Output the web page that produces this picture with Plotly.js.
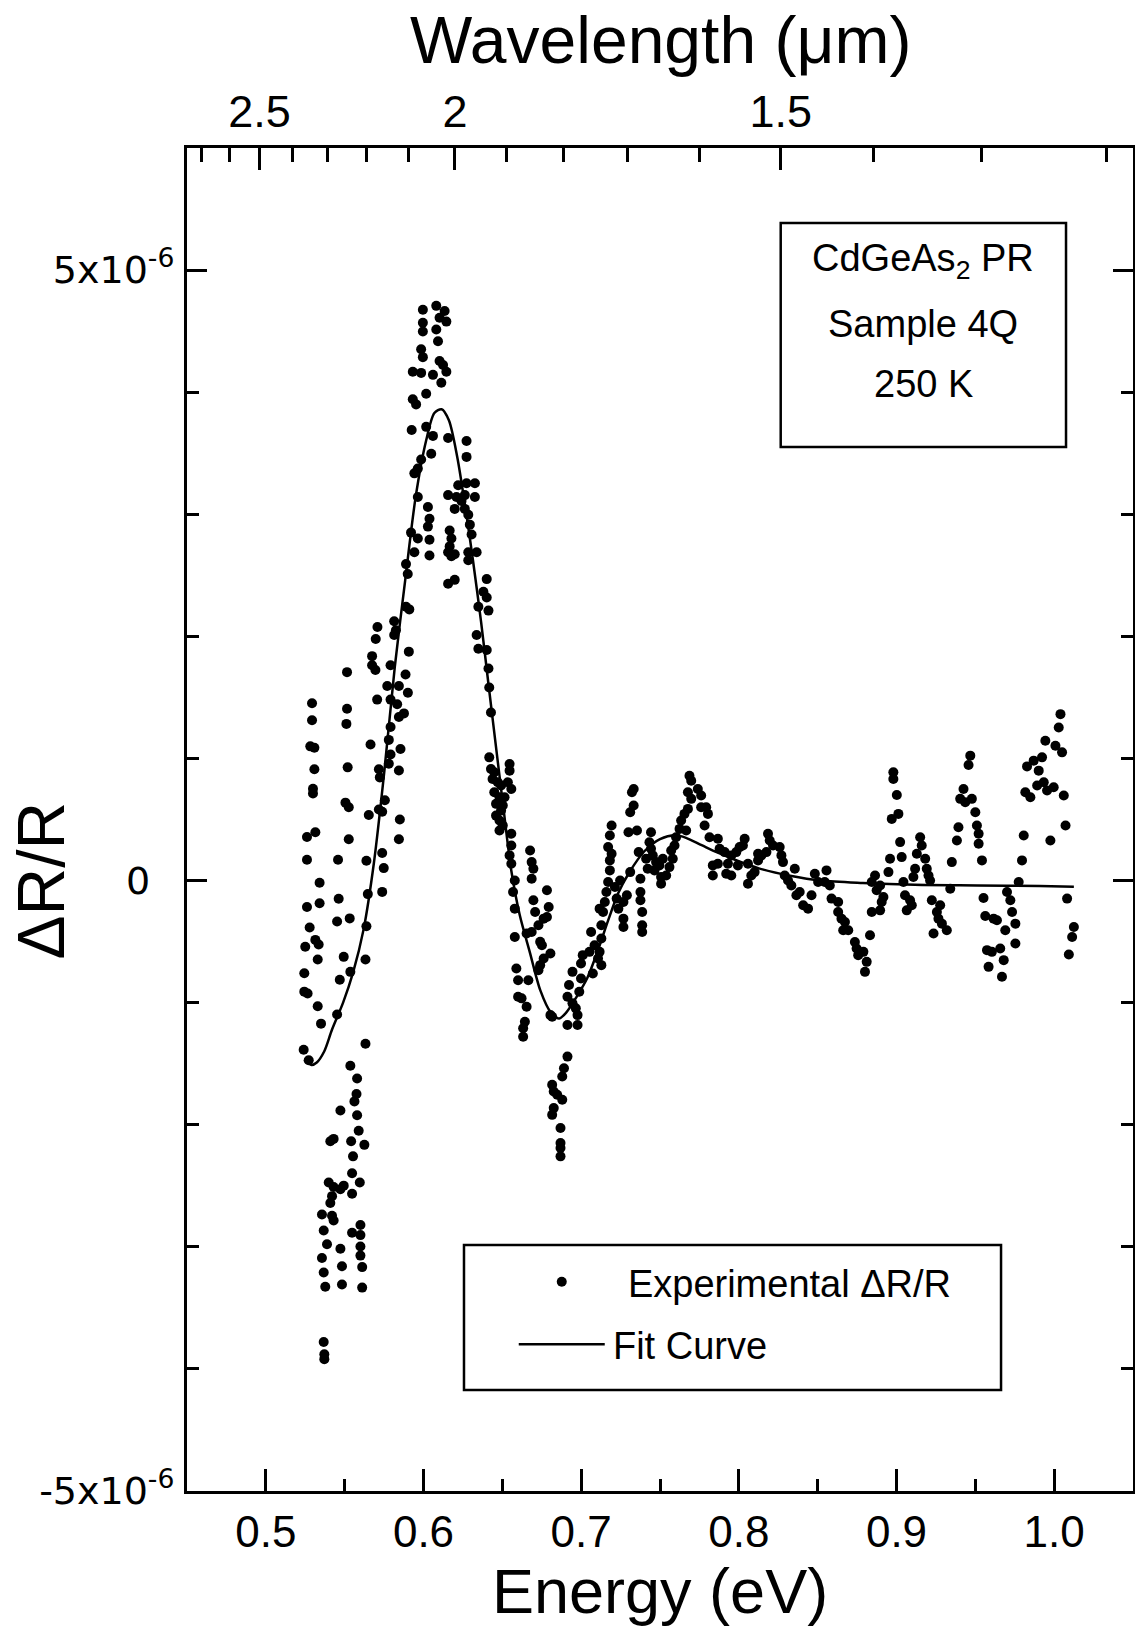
<!DOCTYPE html>
<html><head><meta charset="utf-8">
<script src="https://cdn.plot.ly/plotly-3.0.1.min.js"></script>
<style>html,body{margin:0;padding:0;background:#fff}</style>
</head><body><div id="chart" style="width:1135px;height:1627px"></div>
<script>
// Experimental points: photon energy (eV) and ΔR/R in units of 1e-6
const expEnergy = [
0.5293,0.5293,0.5282,0.5308,0.5308,0.5299,0.5299,0.5314,0.5261,0.5261,0.5341,0.5341,0.5261,0.5278,0.5314,0.5335,0.5250,0.5329,0.5244,0.5244,0.5265,0.5329,0.5350,0.5240,0.5272,
0.5515,0.5515,0.5511,0.5519,0.5505,0.5526,0.5526,0.5458,0.5462,0.5452,0.5532,0.5494,0.5536,0.5469,0.5452,
0.5674,0.5674,0.5695,0.5791,0.5907,0.5886,0.5901,0.5844,0.5770,0.5706,0.5791,0.5833,0.5876,0.5791,0.5844,0.5780,0.5791,0.5664,0.5854,0.5717,0.5780,0.5723,0.5844,0.5755,0.5717,0.5738,0.5653,0.5850,0.5844,0.5738,0.5638,0.5748,0.5738,0.5647,0.5638,0.5632,0.5632,
0.5536,0.5579,0.5575,0.5562,0.5473,0.5579,0.5589,0.5409,0.5430,0.5541,0.5625,0.5553,0.5547,0.5399,0.5430,0.5473,0.5494,0.5596,0.5547,0.5420,0.5409,0.5356,0.5420,0.5430,0.5367,0.5547,0.5600,0.5600,0.5388,0.5473,0.5600,0.5356,0.5483,0.5611,0.5600,0.5367,0.5483,0.5377,0.5611,0.5367,0.5371,0.5371,
0.5996,0.6081,0.6134,0.6102,0.6145,0.5996,0.6081,0.5996,0.6092,0.5985,0.5996,0.6102,0.6124,0.5932,0.5985,0.6060,0.6145,0.6113,0.6017,0.5932,0.5953,0.5925,0.6017,0.6060,0.6156,0.6273,0.6273,0.6049,0.5985,0.5942,0.5964,0.6156,0.6220,0.6326,0.6273,0.6262,0.6209,0.6241,0.6326,0.6198,0.6262,0.6284,0.5964,0.6028,0.6038,0.6028,0.6038,0.6038,0.5921,0.5964,0.5942,0.6166,0.6177,0.6166,0.6156,0.6177,0.6198,0.6284,0.6337,0.6284,0.6294,0.6305,0.6156,0.6198,0.5889,0.5900,0.6401,0.6380,0.6401,0.6348,0.6412,0.5889,0.5910,0.5814,0.5825,0.5814,0.5708,0.5697,0.6337,0.6348,0.6401,0.6412,
0.6417,0.6428,0.6417,0.6428,0.6449,0.6546,0.6546,0.6438,0.6471,0.6492,0.6535,0.6557,0.6449,0.6482,0.6514,0.6460,0.6503,0.6492,0.6460,0.6482,0.6503,0.6482,0.6557,0.6557,0.6546,0.6676,0.6686,0.6697,0.6686,0.6557,0.6579,0.6568,0.6783,0.6794,0.6697,0.6708,0.6783,0.6729,0.6762,0.6579,0.6686,0.6654,0.6740,0.6751,0.6805,0.6762,0.6740,0.6729,0.6579,0.6589,0.6600,0.6665,0.6600,0.6622,0.6654,0.6643,0.6632,0.6632,0.6805,0.6816,0.6913,0.6977,0.6966,0.6977,0.6945,0.6913,0.6923,0.6945,0.6988,0.6999,0.6999,0.7010,0.7053,0.7063,0.7085,0.7107,0.7128,0.7074,0.7117,0.7128,0.7128,0.7117,0.7150,0.7160,0.7139,0.7171,0.7182,0.7214,0.7247,0.7225,0.7236,0.7268,0.7290,0.7268,0.7268,0.7376,0.7376,0.7376,0.7387,0.7387,0.7387,0.7311,0.7365,0.7182,0.7193,0.7171,0.7182,0.7193,0.7300,0.7354,0.7311,0.7333,0.7322,0.7333,0.6913,0.6891,0.6880,0.6816,0.6826,0.6848,0.6880,0.6826,0.6816,0.6869,0.6869,0.6869,0.6869,
0.7443,0.7433,0.7443,0.7412,0.7454,0.7475,0.7422,0.7465,0.7496,0.7518,0.7507,0.7507,0.7539,0.7560,0.7581,0.7571,0.7592,0.7602,0.7624,0.7634,0.7655,0.7677,0.7666,0.7687,0.7698,0.7677,0.7740,0.7761,0.7698,0.7761,0.7793,0.7804,0.7783,0.7814,0.7867,0.7878,0.7910,0.7952,0.7984,0.8005,0.8037,0.8026,0.7835,0.7867,0.7931,0.7994,0.8058,0.7835,0.7920,0.7952,0.8058,0.8079,0.8100,0.8122,0.8122,0.8143,0.8175,0.8185,0.8196,0.8217,0.8259,0.8270,0.8280,0.8291,0.8312,0.8333,0.8355,0.8386,0.8365,0.8408,0.8439,0.8461,0.8482,0.8503,0.8556,0.8545,0.8577,0.8588,0.8630,0.8630,0.8651,0.8673,0.8694,0.8662,0.8736,0.8747,0.8757,
0.8790,0.8811,0.8800,0.8832,0.8864,0.8843,0.8896,0.8874,0.8917,0.8906,0.8896,0.8843,0.8949,0.8959,0.9023,0.9033,0.9118,0.9107,0.9044,0.9054,0.9086,0.9097,0.9065,0.9129,0.9150,0.9160,0.9182,0.9192,0.9203,0.9213,0.8980,0.8980,0.9002,0.9012,0.8970,0.9224,0.9277,0.9256,0.9266,0.9288,0.9319,0.9235,0.9341,0.9351,0.9383,0.9393,0.9468,0.9457,0.9425,0.9404,0.9436,0.9478,0.9500,0.9510,0.9521,0.9521,0.9542,0.9552,0.9563,0.9616,0.9637,0.9574,0.9605,0.9658,0.9584,0.9680,0.9669,0.9701,0.9722,0.9733,0.9754,0.9690,0.9754,0.9775,0.9796,0.9807,0.9828,0.9870,0.9923,0.9902,0.9817,0.9849,0.9892,0.9934,0.9955,0.9997,0.9944,1.0008,1.0050,1.0029,1.0040,1.0061,0.9976,1.0072,1.0082,1.0125,1.0114,1.0093
];
const expDR = [
1.452,1.313,1.099,1.088,0.912,0.751,0.713,0.395,0.357,0.170,-0.018,-0.186,-0.216,-0.385,-0.486,-0.524,-0.542,-0.647,-0.760,-0.910,-0.925,-1.030,-1.172,-1.386,-1.472,
1.707,1.407,1.283,0.927,0.638,0.601,0.338,0.170,-0.149,-0.336,-0.310,-0.625,-0.748,-0.812,-1.097,
1.838,1.763,1.725,1.763,1.875,1.688,1.538,1.594,1.594,1.482,1.482,1.444,1.369,1.257,1.339,1.152,1.032,1.114,1.077,0.912,0.957,0.845,0.901,0.657,0.582,0.563,0.537,0.500,0.338,0.226,0.162,0.102,-0.093,-0.111,-0.374,-0.647,-1.337,
-1.517,-1.622,-1.749,-1.809,-1.884,-1.922,-2.049,-2.135,-2.116,-2.135,-2.165,-2.259,-2.398,-2.473,-2.510,-2.529,-2.499,-2.473,-2.566,-2.585,-2.641,-2.735,-2.746,-2.784,-2.866,-2.885,-2.821,-2.904,-2.979,-3.016,-2.997,-3.091,-3.159,-3.166,-3.072,-3.211,-3.308,-3.327,-3.334,-3.78,-3.88,-3.92,
4.675,4.707,4.665,4.610,4.578,4.568,4.513,4.497,4.417,4.352,4.287,4.255,4.223,4.168,4.158,4.142,4.168,4.077,3.987,3.942,3.900,3.690,3.716,3.642,3.625,3.600,3.470,3.496,3.448,3.335,3.374,3.157,3.238,3.254,3.254,3.157,3.141,3.109,3.141,3.044,3.044,2.996,3.141,3.060,2.963,2.899,2.792,2.663,2.850,2.802,2.689,2.867,2.802,2.737,2.689,2.657,2.673,2.689,2.689,2.624,2.915,2.834,2.431,2.463,2.592,2.511,2.469,2.366,2.318,2.243,2.211,2.243,2.221,2.124,2.050,2.011,2.076,1.979,2.011,1.898,1.888,1.737,
1.581,1.377,1.009,0.914,0.887,0.955,0.900,0.832,0.805,0.778,0.805,0.750,0.723,0.682,0.682,0.628,0.614,0.573,0.532,0.492,0.451,0.410,0.383,0.287,0.206,0.246,0.151,0.097,0.015,0.138,0.001,-0.094,-0.080,-0.216,-0.162,-0.257,-0.298,-0.366,-0.312,-0.230,-0.421,-0.434,-0.502,-0.530,-0.598,-0.639,-0.693,-0.734,-0.462,-0.720,-0.816,-0.816,-0.952,-0.965,-1.033,-1.156,-1.210,-1.279,-1.102,-1.115,-1.183,-1.183,-1.047,-1.102,-1.006,-0.952,-0.856,-0.748,-0.911,-0.802,-0.679,-0.611,-0.584,-0.421,-0.530,-0.639,-0.693,-0.761,-0.584,-0.475,-0.366,-0.230,-0.176,-0.094,-0.257,-0.012,0.083,-0.053,0.001,-0.148,-0.230,-0.176,-0.121,-0.312,-0.380,0.015,-0.094,-0.162,-0.257,-0.366,-0.421,0.069,0.233,0.165,0.219,0.274,0.369,0.451,0.396,0.410,0.560,0.614,0.723,0.750,-1.442,-1.537,-1.605,-1.673,-1.728,-1.755,-1.796,-1.864,-1.919,-2.027,-2.150,-2.191,-2.259,
0.396,0.314,0.260,0.178,0.206,0.151,0.097,0.083,0.124,0.178,0.029,-0.026,0.042,0.110,0.178,0.246,0.287,0.355,0.423,0.492,0.546,0.587,0.410,0.859,0.818,0.723,0.750,0.696,0.669,0.600,0.600,0.546,0.451,0.355,0.342,0.260,0.233,0.206,0.233,0.274,0.342,0.287,0.124,0.137,0.137,0.124,0.137,0.042,0.056,0.042,-0.026,0.042,0.069,0.165,0.219,0.206,0.233,0.383,0.328,0.287,0.274,0.206,0.151,0.042,0.001,-0.040,0.097,-0.094,-0.121,-0.203,-0.230,-0.121,0.056,-0.012,0.083,-0.012,-0.040,-0.148,-0.176,-0.257,-0.312,-0.339,-0.407,-0.407,-0.503,-0.557,-0.611,
-0.584,-0.666,-0.748,-0.448,0.042,-0.012,-0.040,-0.080,-0.135,-0.176,-0.244,-0.257,0.069,0.178,0.315,0.192,0.097,0.029,-0.012,-0.121,-0.162,-0.203,-0.244,0.219,0.355,0.287,0.178,0.097,0.042,0.001,0.887,0.832,0.701,0.546,0.505,-0.162,-0.203,-0.257,-0.312,-0.353,-0.407,-0.434,-0.067,0.151,0.328,0.437,1.023,0.946,0.750,0.669,0.641,0.669,0.560,0.451,0.383,0.301,0.165,-0.143,-0.290,-0.312,-0.325,-0.570,-0.584,-0.557,-0.707,-0.652,-0.788,-0.094,-0.162,-0.257,-0.353,-0.407,-0.516,-0.012,0.165,0.369,0.935,0.982,1.009,0.900,0.723,0.682,0.778,0.805,0.737,0.764,1.145,1.104,1.050,1.254,1.363,0.696,0.328,0.451,-0.148,-0.380,-0.462,-0.606
];
// Fit curve: energy (eV) and ΔR/R in units of 1e-6
const fitEnergy = [0.5244,0.529,0.5323,0.537,0.542,0.549,0.5554,0.562,0.5686,0.5752,0.5818,0.5884,0.595,0.6016,0.6069,0.6115,0.6161,0.6214,0.6266,0.6313,0.6365,0.6412,0.6464,0.6511,0.6557,0.661,0.6675,0.6741,0.6807,0.686,0.6906,0.6972,0.7038,0.7104,0.717,0.7236,0.7302,0.7401,0.75,0.7599,0.7665,0.7764,0.7863,0.7995,0.8127,0.8325,0.8522,0.8786,0.9116,0.9512,0.9908,1.0125];
const fitDR = [-1.47,-1.51,-1.49,-1.40,-1.22,-1.00,-0.75,-0.40,0.15,0.90,1.75,2.46,3.14,3.60,3.83,3.86,3.77,3.47,3.05,2.63,2.12,1.61,1.05,0.55,0.08,-0.28,-0.59,-0.90,-1.08,-1.13,-1.08,-0.95,-0.80,-0.58,-0.33,-0.10,0.06,0.24,0.34,0.37,0.35,0.29,0.23,0.16,0.10,0.04,0.00,-0.02,-0.035,-0.04,-0.045,-0.05];

const UNIT = 1e-6;
const yTickVals = [-5, 0, 5];
const yTickText = ['-5x10<sup>-6</sup>', '0\u00A0\u00A0', '5x10<sup>-6</sup>'];
const wlMajor = [2.5, 2.0, 1.5];
const wlMajorText = ['2.5', '2', '1.5'];
const wlMinor = [2.7, 2.6, 2.4, 2.3, 2.2, 2.1, 1.9, 1.8, 1.7, 1.6, 1.4, 1.3, 1.2];
const HC = 1.23984; // eV·µm
const boxLines = ['CdGeAs<sub>2</sub> PR', 'Sample 4Q', '250 K'];

const sans = 'Liberation Sans, Arial, sans-serif';

const traces = [
  {x: expEnergy, y: expDR.map(v => v * UNIT), type: 'scatter', mode: 'markers',
   name: '\u00A0\u2009Experimental ΔR/R', legendgroup: 'a',
   marker: {color: 'black', size: 10}},
  {x: fitEnergy, y: fitDR.map(v => v * UNIT), type: 'scatter', mode: 'lines',
   name: '\u200AFit Curve', legendgroup: 'b',
   line: {color: 'black', width: 2.5, shape: 'spline', smoothing: 0.8}},
  {x: [], y: [], xaxis: 'x2', yaxis: 'y', showlegend: false, type: 'scatter', mode: 'markers'}
];

const boxY = [0.9159, 0.8690, 0.8243];

const layout = {
  width: 1135, height: 1627,
  margin: {l: 187, r: 2, t: 148, b: 136},
  paper_bgcolor: 'white', plot_bgcolor: 'white',
  showlegend: true,
  legend: {x: 0.3454, y: 0.179, xanchor: 'left', yanchor: 'top',
    bgcolor: 'rgba(0,0,0,0)', borderwidth: 0, itemwidth: 86, tracegroupgap: 10,
    font: {family: sans, size: 38, color: 'black'}},
  xaxis: {range: [0.45, 1.05], tickmode: 'linear', tick0: 0.5, dtick: 0.1, tickformat: '.1f',
    ticks: 'inside', ticklen: 22, tickwidth: 3, tickcolor: 'black',
    showline: true, linewidth: 3, linecolor: 'black', mirror: false,
    showgrid: false, zeroline: false, ticklabelstandoff: 0,
    tickfont: {family: sans, size: 44, color: 'black'},
    minor: {tick0: 0.45, dtick: 0.05, ticks: 'inside', ticklen: 12, tickwidth: 3, tickcolor: 'black', showgrid: false}},
  xaxis2: {overlaying: 'x', side: 'top', anchor: 'y', range: [0.45, 1.05],
    tickmode: 'array', tickvals: wlMajor.map(w => HC / w), ticktext: wlMajorText,
    ticks: 'inside', ticklen: 22, tickwidth: 3, tickcolor: 'black',
    showline: true, linewidth: 3, linecolor: 'black', showgrid: false, zeroline: false,
    ticklabelstandoff: 0,
    tickfont: {family: sans, size: 45, color: 'black'},
    minor: {tickmode: 'array', tickvals: wlMinor.map(w => HC / w), ticks: 'inside', ticklen: 14, tickwidth: 3, tickcolor: 'black', showgrid: false}},
  yaxis: {range: [-5 * UNIT, 6 * UNIT], tickmode: 'array',
    tickvals: yTickVals.map(v => v * UNIT), ticktext: yTickText,
    ticks: 'inside', ticklen: 20, tickwidth: 3, tickcolor: 'black',
    showline: true, linewidth: 3, linecolor: 'black', mirror: 'ticks',
    showgrid: false, zeroline: false, ticklabelstandoff: 2,
    tickfont: {family: 'DejaVu Sans, sans-serif', size: 38, color: 'black'},
    minor: {tick0: 0, dtick: UNIT, ticks: 'inside', ticklen: 12, tickwidth: 3, tickcolor: 'black', showgrid: false}},
  shapes: [
    {type: 'rect', xref: 'paper', yref: 'paper', x0: 0.6276, x1: 0.9292, y0: 0.7774, y1: 0.9442,
     line: {color: 'black', width: 2.5}, fillcolor: 'rgba(0,0,0,0)'},
    {type: 'rect', xref: 'paper', yref: 'paper', x0: 0.2928, x1: 0.8605, y0: 0.0752, y1: 0.1832,
     line: {color: 'black', width: 2.5}, fillcolor: 'rgba(0,0,0,0)'}
  ],
  annotations: [
    {text: 'Energy (eV)', xref: 'paper', yref: 'paper', x: 0.5, y: -0.0745,
     xanchor: 'center', yanchor: 'middle', showarrow: false,
     font: {family: sans, size: 63, color: 'black'}},
    {text: 'Wavelength (μm)', xref: 'paper', yref: 'paper', x: 0.5, y: 1.0805,
     xanchor: 'center', yanchor: 'middle', showarrow: false,
     font: {family: sans, size: 66, color: 'black'}},
    {text: 'ΔR/R', xref: 'paper', yref: 'y', x: -0.1543, y: 0, textangle: -90,
     xanchor: 'center', yanchor: 'middle', showarrow: false,
     font: {family: sans, size: 66, color: 'black'}}
  ].concat(boxLines.map((t, i) => ({
     text: t, xref: 'paper', yref: 'paper', x: 0.7784, y: boxY[i],
     xanchor: 'center', yanchor: 'middle', showarrow: false,
     font: {family: sans, size: 38, color: 'black'}})))
};

Plotly.newPlot('chart', traces, layout, {displayModeBar: false, staticPlot: true});
</script>
</body></html>
